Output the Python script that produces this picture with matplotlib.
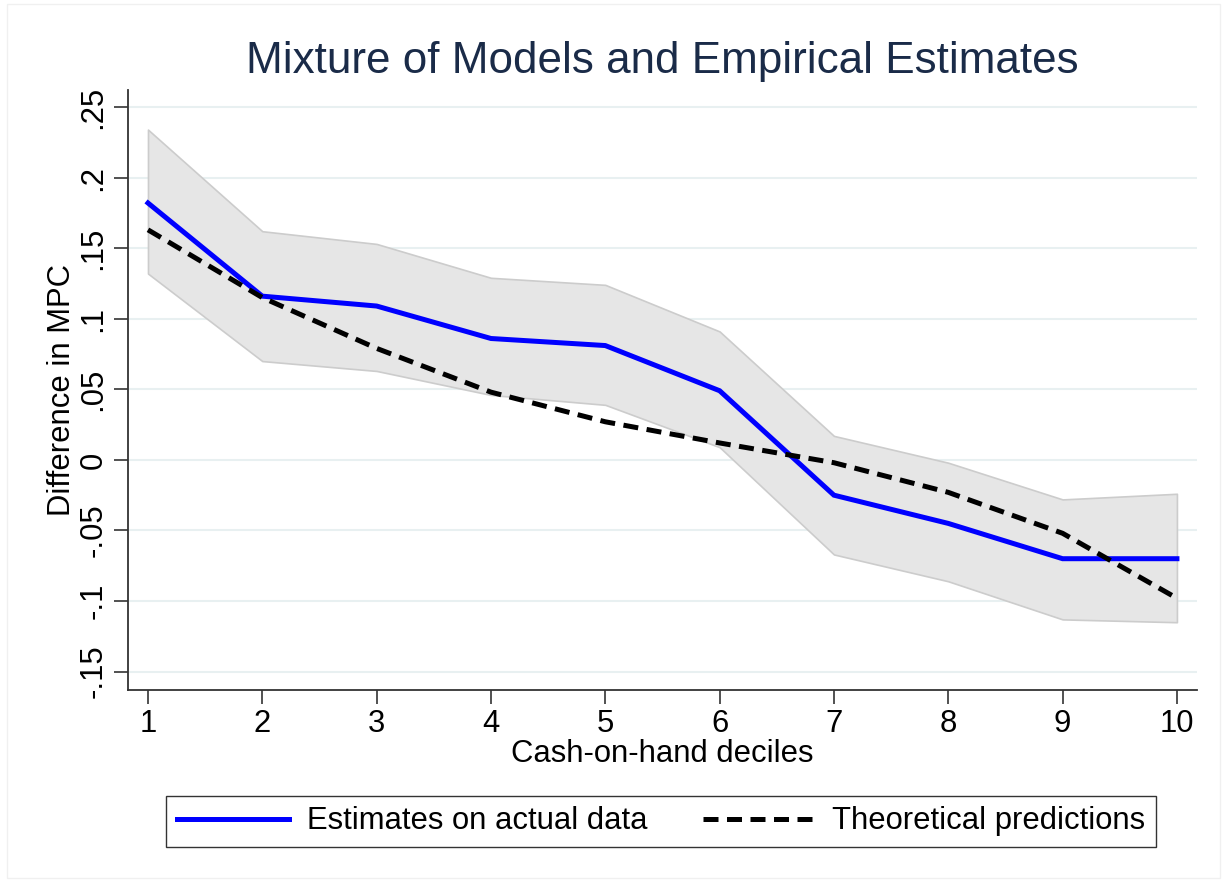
import matplotlib.pyplot as plt
from matplotlib.patches import Rectangle
from matplotlib.ticker import FixedLocator

plt.rcParams['font.family'] = ['Liberation Sans', 'DejaVu Sans']

deciles = [1, 2, 3, 4, 5, 6, 7, 8, 9, 10]
estimates = [0.182, 0.116, 0.109, 0.086, 0.081, 0.049, -0.025, -0.045, -0.070, -0.070]
ci_upper = [0.234, 0.162, 0.153, 0.129, 0.124, 0.091, 0.017, -0.002, -0.028, -0.024]
ci_lower = [0.132, 0.070, 0.063, 0.046, 0.039, 0.009, -0.067, -0.086, -0.113, -0.115]
theory = [0.163, 0.115, 0.079, 0.048, 0.027, 0.012, -0.002, -0.023, -0.052, -0.098]

yticks = [-0.15, -0.1, -0.05, 0, 0.05, 0.1, 0.15, 0.2, 0.25]
ytick_labels = ['-.15', '-.1', '-.05', '0', '.05', '.1', '.15', '.2', '.25']

FS = 22.3

fig = plt.figure(figsize=(12.27, 8.83), dpi=100)
# faint outer frame of the graph region
fig.patches.append(Rectangle((0.006, 0.006), 0.988, 0.99, transform=fig.transFigure,
                             fill=False, edgecolor='#f0f0f0', lw=1.0))

ax = fig.add_axes([0.1043, 0.2186, 0.8712, 0.6794])

ax.fill_between(deciles, ci_lower, ci_upper, facecolor='#e6e6e6',
                edgecolor='#cccccc', linewidth=1.2, zorder=2)
line_est, = ax.plot(deciles, estimates, color='#0000ff', lw=3.6,
                    solid_joinstyle='miter', zorder=3)
line_th, = ax.plot(deciles, theory, color='black', lw=3.6,
                   dashes=(3.0, 1.7), zorder=4)

ax.set_xlim(0.825, 10.175)
ax.set_ylim(-0.163, 0.262)
ax.set_xticks(deciles)
ax.yaxis.set_major_locator(FixedLocator(yticks))
ax.set_yticklabels(ytick_labels, rotation=90, va='center')
ax.tick_params(axis='both', labelsize=FS, length=10, width=1.2, color='#333333',
               direction='out', pad=4)

ax.grid(axis='y', color='#e8f0f1', lw=1.5, zorder=0)
ax.set_axisbelow(True)
for side in ['top', 'right']:
    ax.spines[side].set_visible(False)
for side in ['left', 'bottom']:
    ax.spines[side].set_linewidth(1.3)
    ax.spines[side].set_color('#333333')

ax.set_xlabel('Cash-on-hand deciles', fontsize=FS, labelpad=0)
ax.set_ylabel('Difference in MPC', fontsize=FS, labelpad=1)
fig.text(0.54, 0.93, 'Mixture of Models and Empirical Estimates', fontsize=31.7,
         color='#1a2b48', ha='center', va='center')

leg = fig.legend([line_est, line_th],
                 ['Estimates on actual data', 'Theoretical predictions'],
                 loc='center', bbox_to_anchor=(0.539, 0.0697), ncol=2,
                 fontsize=FS, frameon=True, fancybox=False, handlelength=3.6,
                 columnspacing=1.8, handletextpad=0.58, borderpad=0.35,
                 borderaxespad=0)
leg.get_frame().set_edgecolor('black')
leg.get_frame().set_linewidth(1.0)

fig.savefig('out.png', dpi=100, facecolor='white')
